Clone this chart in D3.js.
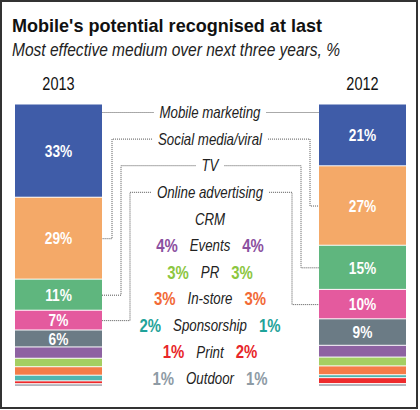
<!DOCTYPE html>
<html>
<head>
<meta charset="utf-8">
<script src="https://cdn.jsdelivr.net/npm/d3@7"></script>
<style>
  body { margin: 0; background: #fff; }
  text { font-family: "Liberation Sans", Arial, sans-serif; }
</style>
</head>
<body>
<div id="chart"></div>
<script>
// Data
const categories = ["Mobile marketing", "Social media/viral", "TV", "Online advertising", "CRM",
  "Events", "PR", "In-store", "Sponsorship", "Print", "Outdoor"];
const values2013 = [33, 29, 11, 7, 6, 4, 3, 3, 2, 1, 1];
const values2012 = [21, 27, 15, 10, 9, 4, 3, 3, 1, 2, 1];
const years = ["2013", "2012"];
const barColors = ["#3f5ca8", "#f4a968", "#5fb67e", "#e45a9e", "#6b7b85",
  "#8e62a2", "#a4cf62", "#f47c48", "#4fb6b0", "#ee2a2c", "#b1b5bd"];
const textColors = ["#3f5ca8", "#f4a968", "#5fb67e", "#e45a9e", "#6b7b85",
  "#8b4fa0", "#8cc63f", "#f26a36", "#1fa39a", "#e8262a", "#8e9ba5"];

const W = 420, H = 410;
const k = 0.83; // horizontal squeeze to mimic the condensed house font
const svg = d3.select("#chart").append("svg")
    .attr("width", W)
    .attr("height", H);

// condensed text helper
function ctext(parent, x, y) {
  return parent.append("text")
      .attr("transform", "translate(" + x + "," + y + ") scale(" + k + ",1)");
}

// Frame
svg.append("rect")
    .attr("x", 1).attr("y", 1)
    .attr("width", 416).attr("height", 407)
    .attr("fill", "none")
    .attr("stroke", "#333")
    .attr("stroke-width", 2);

// Title and subtitle
svg.append("text")
    .attr("x", 12).attr("y", 32)
    .attr("textLength", 310)
    .attr("lengthAdjust", "spacingAndGlyphs")
    .style("font-size", "18.5px")
    .style("font-weight", "bold")
    .attr("fill", "#111")
    .text("Mobile's potential recognised at last");
svg.append("text")
    .attr("x", 12).attr("y", 56)
    .attr("textLength", 328)
    .attr("lengthAdjust", "spacingAndGlyphs")
    .style("font-size", "17.5px")
    .style("font-style", "italic")
    .attr("fill", "#222")
    .text("Most effective medium over next three years, %");

// Bars
const barW = 87;
const x = d3.scaleOrdinal().domain(years).range([15, 319]);
const barTop = 104.5, barBottom = 387;

function stack(values) {
  let c = 0;
  return values.map((v, i) => { const s = {i, v, y0: c, y1: c + v}; c += v; return s; });
}

const bars = [values2013, values2012];
const yScales = [];
bars.forEach((vals, b) => {
  const y = d3.scaleLinear().domain([0, d3.sum(vals)]).range([barTop, barBottom]);
  yScales.push(y);
  const g = svg.append("g").attr("transform", "translate(" + x(years[b]) + ",0)");

  ctext(g, barW / 2, 90)
      .attr("text-anchor", "middle")
      .style("font-size", "17.5px")
      .attr("fill", "#111")
      .text(years[b]);

  const seg = g.selectAll(".seg")
      .data(stack(vals))
    .enter().append("g").attr("class", "seg");

  seg.append("rect")
      .attr("x", 0)
      .attr("y", d => y(d.y0))
      .attr("width", barW)
      .attr("height", d => Math.max(0.8, y(d.y1) - y(d.y0) - 1))
      .attr("fill", d => barColors[d.i]);

  seg.filter(d => d.i < 5).each(function(d) {
    ctext(d3.select(this), barW / 2, (y(d.y0) + y(d.y1)) / 2)
        .attr("dy", "0.35em")
        .attr("text-anchor", "middle")
        .style("font-size", "16.5px")
        .style("font-weight", "bold")
        .attr("fill", "#fff")
        .text(d.v + "%");
  });
});

// Middle labels
const row = d3.scalePoint().domain(categories).range([112.5, 378.5]);
const cx = 210;
const leftEdge = x("2013") + barW, rightEdge = x("2012");

categories.forEach((c, i) => {
  const ty = row(c);
  const label = ctext(svg, cx, ty)
      .attr("dy", "0.36em")
      .attr("text-anchor", "middle")
      .style("font-size", "16px")
      .style("font-style", "italic")
      .attr("fill", "#222")
      .text(c);
  const half = label.node().getComputedTextLength() * k / 2;

  if (i >= 5) {
    // values either side of the label
    ctext(svg, cx - half - 12, ty)
        .attr("dy", "0.36em")
        .attr("text-anchor", "end")
        .style("font-size", "18px")
        .style("font-weight", "bold")
        .attr("fill", textColors[i])
        .text(values2013[i] + "%");
    ctext(svg, cx + half + 12, ty)
        .attr("dy", "0.36em")
        .attr("text-anchor", "start")
        .style("font-size", "18px")
        .style("font-weight", "bold")
        .attr("fill", textColors[i])
        .text(values2012[i] + "%");
  }

  if (i < 4) {
    // dotted connectors to the bars
    const yl = yScales[0], yr = yScales[1];
    const s0 = stack(values2013)[i], s1 = stack(values2012)[i];
    const ly = (yl(s0.y0) + yl(s0.y1)) / 2;
    const ry = (yr(s1.y0) + yr(s1.y1)) / 2;
    const lx = cx - half - 6, rx = cx + half + 6;
    let lp, rp;
    if (i === 0) {
      lp = [[lx, ty], [leftEdge, ty]];
      rp = [[rx, ty], [rightEdge, ty]];
    } else {
      const kl = leftEdge + 10 + 9 * (i - 1);
      const kr = rightEdge - 9 - 9 * (i - 1);
      lp = [[lx, ty], [kl, ty], [kl, ly], [leftEdge, ly]];
      rp = [[rx, ty], [kr, ty], [kr, ry], [rightEdge, ry]];
    }
    [lp, rp].forEach(p => {
      svg.append("path")
          .attr("d", d3.line()(p))
          .attr("fill", "none")
          .attr("stroke", "#555")
          .attr("stroke-width", 1)
          .attr("stroke-dasharray", "1,1");
    });
  }
});
</script>
</body>
</html>
